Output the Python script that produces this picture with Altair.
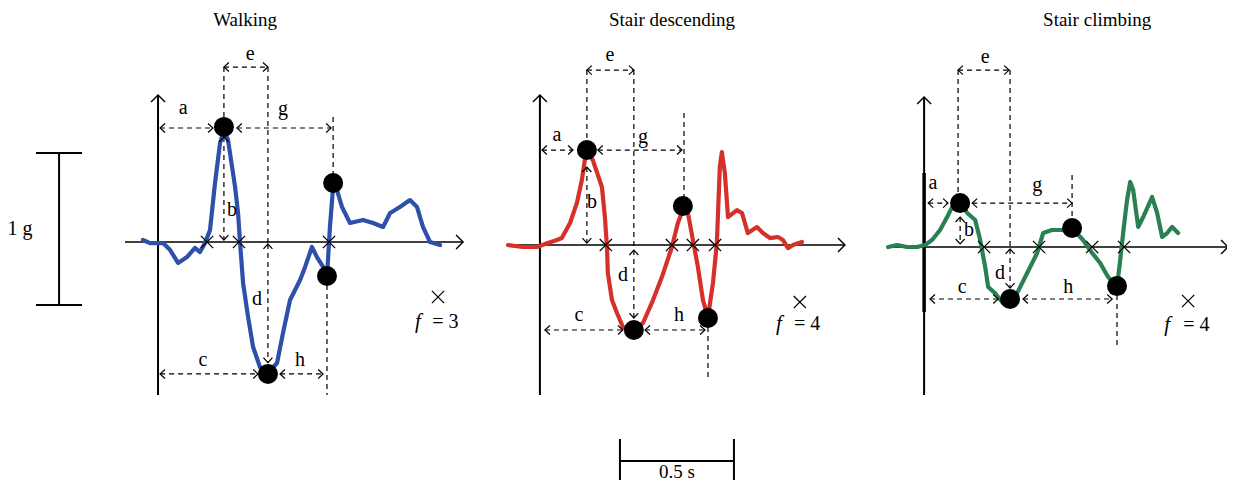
import altair as alt
import pandas as pd

PANELS = ["Walking", "Stair descending", "Stair climbing"]
COLORS = ["#2E4FAA", "#D5302A", "#2A8052"]

# ---- signals: time (s) from panel origin, acceleration (g) ----
walk_t = [-0.066, -0.035, 0.022, 0.053, 0.088, 0.127, 0.162, 0.184, 0.206, 0.228, 0.250, 0.272, 0.289, 0.307,
          0.338, 0.351, 0.360, 0.373, 0.395, 0.417, 0.447, 0.482, 0.522, 0.548, 0.579, 0.623, 0.645, 0.675,
          0.697, 0.724, 0.741, 0.754, 0.768, 0.781, 0.807, 0.842, 0.899, 0.943, 0.987, 1.018, 1.061, 1.105,
          1.136, 1.162, 1.193, 1.237]
walk_a = [0.013, -0.007, -0.007, -0.053, -0.138, -0.099, -0.039, -0.066, -0.007, 0.079, 0.388, 0.651, 0.737,
          0.671, 0.362, 0.191, -0.007, -0.270, -0.493, -0.691, -0.822, -0.862, -0.796, -0.599, -0.382, -0.250,
          -0.164, -0.033, -0.099, -0.164, -0.230, 0.099, 0.362, 0.362, 0.230, 0.125, 0.145, 0.125, 0.099, 0.191,
          0.230, 0.276, 0.230, 0.099, 0.000, -0.020]

desc_t = [-0.140, -0.075, -0.013, 0.035, 0.075, 0.096, 0.132, 0.162, 0.184, 0.197, 0.206, 0.232, 0.272, 0.285,
          0.294, 0.298, 0.316, 0.338, 0.364, 0.408, 0.452, 0.496, 0.535, 0.579, 0.605, 0.627, 0.649, 0.671,
          0.693, 0.715, 0.737, 0.759, 0.776, 0.789, 0.798, 0.811, 0.825, 0.864, 0.886, 0.912, 0.952, 0.978,
          1.009, 1.044, 1.066, 1.088, 1.110, 1.149]
desc_a = [0.000, -0.013, -0.013, 0.013, 0.033, 0.046, 0.145, 0.276, 0.428, 0.559, 0.625, 0.559, 0.382, 0.184,
          -0.013, -0.184, -0.362, -0.447, -0.539, -0.559, -0.513, -0.362, -0.211, -0.013, 0.145, 0.230, 0.211,
          0.033, -0.145, -0.362, -0.474, -0.250, 0.013, 0.513, 0.612, 0.474, 0.184, 0.230, 0.211, 0.079, 0.118,
          0.079, 0.046, 0.053, 0.033, -0.020, 0.000, 0.020]

climb_t = [-0.158, -0.118, -0.075, -0.031, 0.004, 0.035, 0.070, 0.101, 0.127, 0.158, 0.189, 0.224, 0.246, 0.268,
           0.281, 0.311, 0.346, 0.377, 0.408, 0.452, 0.496, 0.522, 0.561, 0.605, 0.649, 0.697, 0.737, 0.772,
           0.807, 0.846, 0.860, 0.873, 0.890, 0.904, 0.917, 0.939, 0.961, 1.000, 1.022, 1.044, 1.066, 1.088, 1.114]
climb_a = [0.000, 0.013, 0.000, 0.000, 0.013, 0.046, 0.112, 0.197, 0.276, 0.296, 0.224, 0.178, 0.046, -0.132,
           -0.263, -0.303, -0.368, -0.388, -0.303, -0.171, -0.039, 0.092, 0.112, 0.112, 0.125, 0.046, -0.039,
           -0.105, -0.197, -0.263, -0.086, 0.092, 0.309, 0.428, 0.375, 0.132, 0.197, 0.329, 0.224, 0.066, 0.092,
           0.132, 0.092]

# ---- feature points (peaks / troughs) ----
walk_dot_t = [0.289, 0.482, 0.768, 0.741]
walk_dot_a = [0.757, -0.868, 0.388, -0.224]
desc_dot_t = [0.206, 0.412, 0.627, 0.737]
desc_dot_a = [0.625, -0.559, 0.257, -0.480]
climb_dot_t = [0.158, 0.377, 0.649, 0.846]
climb_dot_a = [0.289, -0.342, 0.125, -0.257]

# zero crossings
walk_cross_t = [0.215, 0.355, 0.750]
desc_cross_t = [0.289, 0.579, 0.671, 0.768]
climb_cross_t = [0.263, 0.504, 0.737, 0.877]

# horizontal double arrows (e, a, g, c, h)
walk_h_t1 = [0.289, 0.009, 0.346, 0.009, 0.535]
walk_h_t2 = [0.482, 0.241, 0.759, 0.439, 0.724]
walk_h_a = [1.151, 0.750, 0.750, -0.868, -0.868]
desc_h_t1 = [0.206, 0.009, 0.254, 0.022, 0.461]
desc_h_t2 = [0.412, 0.145, 0.623, 0.364, 0.724]
desc_h_a = [1.151, 0.625, 0.625, -0.559, -0.559]
climb_h_t1 = [0.149, 0.018, 0.211, 0.026, 0.434]
climb_h_t2 = [0.373, 0.105, 0.649, 0.325, 0.825]
climb_h_a = [1.164, 0.289, 0.289, -0.342, -0.342]

# vertical double arrows (b, d)
walk_v_t = [0.289, 0.482]
walk_v_a1 = [0.691, -0.013]
walk_v_a2 = [0.013, -0.793]
desc_v_t = [0.206, 0.412]
desc_v_a1 = [0.513, -0.033]
desc_v_a2 = [0.013, -0.480]
climb_v_t = [0.158, 0.377]
climb_v_a1 = [0.197, -0.013]
climb_v_a2 = [0.020, -0.270]

# plain dashed guide lines
walk_g_t = [0.289, 0.482, 0.768, 0.741]
walk_g_a1 = [1.151, 1.151, 0.822, -0.224]
walk_g_a2 = [0.757, -0.013, 0.388, -1.007]
desc_g_t = [0.206, 0.412, 0.632, 0.737]
desc_g_a1 = [1.151, 1.151, 0.868, -0.480]
desc_g_a2 = [0.625, -0.033, 0.257, -0.875]
climb_g_t = [0.149, 0.377, 0.649, 0.846]
climb_g_a1 = [1.164, 1.164, 0.474, -0.257]
climb_g_a2 = [0.289, -0.013, 0.125, -0.664]

# letter labels
LETTERS = ["a", "b", "c", "d", "e", "g", "h"]
walk_l_t = [0.110, 0.325, 0.197, 0.434, 0.404, 0.548, 0.623]
walk_l_a = [0.895, 0.224, -0.763, -0.362, 1.250, 0.888, -0.763]
desc_l_t = [0.075, 0.228, 0.171, 0.364, 0.307, 0.452, 0.610]
desc_l_a = [0.737, 0.296, -0.447, -0.184, 1.263, 0.724, -0.447]
climb_l_t = [0.039, 0.197, 0.167, 0.333, 0.268, 0.496, 0.632]
climb_l_a = [0.434, 0.125, -0.250, -0.158, 1.263, 0.421, -0.250]

# f = number of zero crossings
F_VALUES = ["= 3", "= 4", "= 4"]
f_cross_t = [1.228, 1.140, 1.158]
f_cross_a = [-0.362, -0.375, -0.355]
f_sym_t = [1.140, 1.048, 1.066]
f_eq_t = [1.260, 1.172, 1.194]
f_txt_a = [-0.513, -0.507, -0.500]

# axes extents
yaxis_lo = [-1.007, -0.987, -0.974]
yaxis_hi = [0.967, 0.987, 0.987]
xaxis_lo = [-0.145, -0.145, -0.162]
xaxis_hi = [1.338, 1.338, 1.333]
title_t = [0.382, 0.579, 0.759]
title_a = [1.421, 1.441, 1.454]

# ---- layout: panel origins in a shared frame (s, g) ----
X0 = [0.658, 2.333, 4.018]
Y0 = [0.0, -0.020, -0.033]
W, H = 1219, 473
XDOM = [0, W / 228.0]
YDOM = [(242 - 481) / 152.0, (242 - 8) / 152.0]

sigs = [(walk_t, walk_a), (desc_t, desc_a), (climb_t, climb_a)]
dots = [(walk_dot_t, walk_dot_a), (desc_dot_t, desc_dot_a), (climb_dot_t, climb_dot_a)]
crosses = [walk_cross_t, desc_cross_t, climb_cross_t]
harr = [(walk_h_t1, walk_h_t2, walk_h_a), (desc_h_t1, desc_h_t2, desc_h_a), (climb_h_t1, climb_h_t2, climb_h_a)]
varr = [(walk_v_t, walk_v_a1, walk_v_a2), (desc_v_t, desc_v_a1, desc_v_a2), (climb_v_t, climb_v_a1, climb_v_a2)]
guides = [(walk_g_t, walk_g_a1, walk_g_a2), (desc_g_t, desc_g_a1, desc_g_a2), (climb_g_t, climb_g_a1, climb_g_a2)]
labels = [(walk_l_t, walk_l_a), (desc_l_t, desc_l_a), (climb_l_t, climb_l_a)]

sig_rows, dot_rows, cross_rows, dash_rows, head_rows, axhead_rows, solid_rows, text_rows, ital_rows, title_rows = \
    [], [], [], [], [], [], [], [], [], []
for i in range(3):
    ox, oy = X0[i], Y0[i]
    for k, (t, a) in enumerate(zip(*sigs[i])):
        sig_rows.append(dict(panel=PANELS[i], X=ox + t, Y=oy + a, k=k))
    for t, a in zip(*dots[i]):
        dot_rows.append(dict(X=ox + t, Y=oy + a))
    for t in crosses[i]:
        cross_rows.append(dict(X=ox + t, Y=oy))
    cross_rows.append(dict(X=ox + f_cross_t[i], Y=oy + f_cross_a[i]))
    for t1, t2, a in zip(*harr[i]):
        dash_rows.append(dict(X=ox + t1, X2=ox + t2, Y=oy + a, Y2=oy + a))
        head_rows.append(dict(X=ox + t1, Y=oy + a, ang=0))
        head_rows.append(dict(X=ox + t2, Y=oy + a, ang=180))
    for t, a1, a2 in zip(*varr[i]):
        dash_rows.append(dict(X=ox + t, X2=ox + t, Y=oy + a1, Y2=oy + a2))
        head_rows.append(dict(X=ox + t, Y=oy + a1, ang=90))
        head_rows.append(dict(X=ox + t, Y=oy + a2, ang=270))
    for t, a1, a2 in zip(*guides[i]):
        dash_rows.append(dict(X=ox + t, X2=ox + t, Y=oy + a1, Y2=oy + a2))
    # axes
    solid_rows.append(dict(X=ox, X2=ox, Y=oy + yaxis_lo[i], Y2=oy + yaxis_hi[i], w=2.0))
    solid_rows.append(dict(X=ox + xaxis_lo[i], X2=ox + xaxis_hi[i], Y=oy, Y2=oy, w=1.4))
    axhead_rows.append(dict(X=ox, Y=oy + yaxis_hi[i], ang=90))
    axhead_rows.append(dict(X=ox + xaxis_hi[i], Y=oy, ang=180))
    for s, t, a in zip(LETTERS, *labels[i]):
        text_rows.append(dict(X=ox + t, Y=oy + a, txt=s))
    text_rows.append(dict(X=ox + f_eq_t[i], Y=oy + f_txt_a[i], txt=F_VALUES[i]))
    ital_rows.append(dict(X=ox + f_sym_t[i], Y=oy + f_txt_a[i], txt="f"))
    title_rows.append(dict(X=ox + title_t[i], Y=oy + title_a[i], txt=PANELS[i]))

# thicker stretch of the stair-climbing vertical axis
solid_rows.append(dict(X=X0[2], X2=X0[2], Y=Y0[2] + 0.487, Y2=Y0[2] - 0.428, w=3.5))

# scale bars: 1 g and 0.5 s
G_BAR_X, G_BAR_TOP, G_LEN = 0.224, 0.586, 1.0
S_BAR_X, S_BAR_Y, S_LEN = 2.684, -1.441, 0.5
solid_rows += [
    dict(X=G_BAR_X, X2=G_BAR_X, Y=G_BAR_TOP, Y2=G_BAR_TOP - G_LEN, w=2.0),
    dict(X=G_BAR_X - 0.101, X2=G_BAR_X + 0.101, Y=G_BAR_TOP, Y2=G_BAR_TOP, w=2.0),
    dict(X=G_BAR_X - 0.101, X2=G_BAR_X + 0.101, Y=G_BAR_TOP - G_LEN, Y2=G_BAR_TOP - G_LEN, w=2.0),
    dict(X=S_BAR_X, X2=S_BAR_X + S_LEN, Y=S_BAR_Y, Y2=S_BAR_Y, w=2.0),
    dict(X=S_BAR_X, X2=S_BAR_X, Y=-1.296, Y2=-1.566, w=2.0),
    dict(X=S_BAR_X + S_LEN, X2=S_BAR_X + S_LEN, Y=-1.296, Y2=-1.566, w=2.0),
]
text_rows.append(dict(X=0.053, Y=0.099, txt="1 g"))
scale_txt = [dict(X=S_BAR_X + S_LEN / 2, Y=-1.553, txt="0.5 s")]

xs = alt.Scale(domain=XDOM, nice=False, zero=False)
ys = alt.Scale(domain=YDOM, nice=False, zero=False)


def X(f="X"):
    return alt.X(f + ":Q", scale=xs, axis=None)


def Y(f="Y"):
    return alt.Y(f + ":Q", scale=ys, axis=None)


FONT = "Liberation Serif"

dash_layer = alt.Chart(pd.DataFrame(dash_rows)).mark_rule(
    strokeDash=[5, 4], strokeWidth=1.2, color="black").encode(x=X(), x2="X2:Q", y=Y(), y2="Y2:Q")
solid_layer = alt.Chart(pd.DataFrame(solid_rows)).mark_rule(color="black").encode(
    x=X(), x2="X2:Q", y=Y(), y2="Y2:Q", strokeWidth=alt.StrokeWidth("w:Q", scale=None))
sig_layer = alt.Chart(pd.DataFrame(sig_rows)).mark_line(
    strokeWidth=4.2, strokeCap="round", strokeJoin="round").encode(
    x=X(), y=Y(), order="k:Q",
    color=alt.Color("panel:N", scale=alt.Scale(domain=PANELS, range=COLORS), legend=None))
dot_layer = alt.Chart(pd.DataFrame(dot_rows)).mark_point(
    shape="circle", filled=True, size=400, color="black", opacity=1).encode(x=X(), y=Y())
cross_layer = alt.Chart(pd.DataFrame(cross_rows)).mark_point(
    shape="M-1,-1L1,1M-1,1L1,-1", filled=False, size=150, strokeWidth=1.3, color="black", opacity=1
).encode(x=X(), y=Y())
head_layer = alt.Chart(pd.DataFrame(head_rows)).mark_point(
    shape="M1.1,-1L0,0L1.1,1", filled=False, size=81, strokeWidth=1.2, color="black", opacity=1
).encode(x=X(), y=Y(), angle=alt.Angle("ang:Q", scale=None))
axhead_layer = alt.Chart(pd.DataFrame(axhead_rows)).mark_point(
    shape="M1,-1L0,0L1,1", filled=False, size=196, strokeWidth=1.4, color="black", opacity=1
).encode(x=X(), y=Y(), angle=alt.Angle("ang:Q", scale=None))
text_layer = alt.Chart(pd.DataFrame(text_rows)).mark_text(
    font=FONT, fontSize=20, color="black", align="center", baseline="middle", dy=2
).encode(x=X(), y=Y(), text="txt:N")
ital_layer = alt.Chart(pd.DataFrame(ital_rows)).mark_text(
    font=FONT, fontSize=21, fontStyle="italic", color="black", align="center", baseline="middle", dy=2
).encode(x=X(), y=Y(), text="txt:N")
title_layer = alt.Chart(pd.DataFrame(title_rows)).mark_text(
    font=FONT, fontSize=19, color="black", align="center", baseline="alphabetic"
).encode(x=X(), y=Y(), text="txt:N")
scale_txt_layer = alt.Chart(pd.DataFrame(scale_txt)).mark_text(
    font=FONT, fontSize=19, color="black", align="center", baseline="alphabetic"
).encode(x=X(), y=Y(), text="txt:N")

chart = alt.layer(
    dash_layer, solid_layer, sig_layer, dot_layer, cross_layer, head_layer, axhead_layer,
    text_layer, ital_layer, title_layer, scale_txt_layer
).properties(
    width=W, height=H, padding=0, background="white",
    autosize=alt.AutoSizeParams(type="none"),
).configure_view(stroke=None)

chart.save("out.html", embed_options={"renderer": "svg", "actions": False})
